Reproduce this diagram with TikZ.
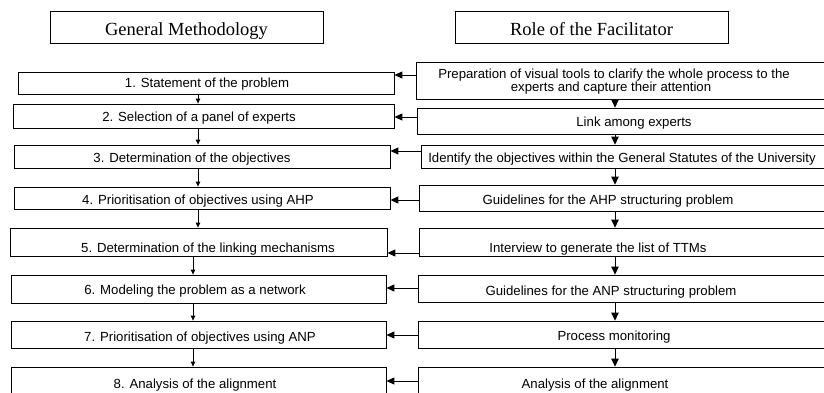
\documentclass[tikz,border=0pt]{standalone}
\usepackage{fontspec}
\setmainfont{Liberation Sans}
\newfontfamily\hdrfont{Liberation Serif}
\usetikzlibrary{arrows.meta,fit}
\tikzset{
  box/.style={draw, line width=0.8pt, inner sep=0pt, rectangle},
  txt/.style={font=\fontsize{13.2}{15}\selectfont, inner sep=0pt, anchor=base},
  hdr/.style={font=\hdrfont\fontsize{18.5}{20}\selectfont, inner sep=0pt, anchor=base},
  harrow/.style={-{Triangle[length=8pt,width=7pt]}, line width=1pt},
  varrow/.style={-{Triangle[length=5pt,width=4.5pt]}, line width=1pt},
  rarrow/.style={-{Triangle[length=8pt,width=7.5pt]}, line width=1pt}
}
\newcommand{\mkbox}[5]{\node[box, fit={(#2,#3) (#4,#5)}] (#1) {};}
\begin{document}
\begin{tikzpicture}[x=1pt,y=-1pt]
\useasboundingbox (0,0) rectangle (824,392);
\clip (0,0) rectangle (824,392);
% headers
\mkbox{HL}{50}{11}{323}{43}
\mkbox{HR}{455}{11}{728}{43}
\node[hdr] (tHL) at (186.5,35) {General Methodology};
\node[hdr] (tHR) at (591.5,35) {Role of the Facilitator};
% left column
\mkbox{L1}{18}{72}{394}{94}
\mkbox{L2}{13}{104}{394}{128}
\mkbox{L3}{14}{145}{390}{168}
\mkbox{L4}{14}{187}{390}{209}
\mkbox{L5}{10}{228}{387}{256}
\mkbox{L6}{11}{275}{386}{303}
\mkbox{L7}{11}{321}{386}{348}
\mkbox{L8}{11}{367}{386}{402}
\node[txt] (tL1) at (207,87) {1. Statement of the problem};
\node[txt] (tL2) at (199,121) {2. Selection of a panel of experts};
\node[txt] (tL3) at (192,162) {3. Determination of the objectives};
\node[txt] (tL4) at (198,204) {4. Prioritisation of objectives using AHP};
\node[txt] (tL5) at (208,252) {5. Determination of the linking mechanisms};
\node[txt] (tL6) at (195,294) {6. Modeling the problem as a network};
\node[txt] (tL7) at (200,341) {7. Prioritisation of objectives using ANP};
\node[txt] (tL8) at (195,388) {8. Analysis of the alignment};
% right column
\mkbox{R1}{416}{62}{840}{99}
\mkbox{R2}{417}{108}{840}{134}
\mkbox{R3}{421}{145}{840}{168}
\mkbox{R4}{419}{185}{840}{211}
\mkbox{R5}{419}{228}{840}{256}
\mkbox{R6}{418}{275}{840}{302}
\mkbox{R7}{418}{321}{840}{348}
\mkbox{R8}{418}{367}{840}{402}
\node[txt] (tR1a) at (614,78) {Preparation of visual tools to clarify the whole process to the};
\node[txt] (tR1b) at (611,91) {experts and capture their attention};
\node[txt] (tR2) at (634,126) {Link among experts};
\node[txt] (tR3) at (622,162) {Identify the objectives within the General Statutes of the University};
\node[txt] (tR4) at (608,204) {Guidelines for the AHP structuring problem};
\node[txt] (tR5) at (598,252) {Interview to generate the list of TTMs};
\node[txt] (tR6) at (611,295) {Guidelines for the ANP structuring problem};
\node[txt] (tR7) at (614,340) {Process monitoring};
\node[txt] (tR8) at (595,388) {Analysis of the alignment};
% reference coordinates
\coordinate (h1) at (0,75);
\coordinate (h2) at (0,117);
\coordinate (h3) at (0,151);
\coordinate (h4) at (0,200);
\coordinate (h5) at (0,253);
\coordinate (h6) at (0,288);
\coordinate (h7) at (0,335);
\coordinate (h8) at (0,381);
\coordinate (va) at (198,0);
\coordinate (vb) at (193,0);
\coordinate (vr) at (615,0);
% horizontal arrows
\foreach \i in {1,...,8}{
  \draw[harrow] (R\i.west |- h\i) -- (L\i.east |- h\i);
}
% left vertical arrows
\draw[varrow] (L1.south -| va) -- (L2.north -| va);
\draw[varrow] (L2.south -| va) -- (L3.north -| va);
\draw[varrow] (L3.south -| va) -- (L4.north -| va);
\draw[varrow] (L4.south -| va) -- (L5.north -| va);
\draw[varrow] (L5.south -| vb) -- (L6.north -| vb);
\draw[varrow] (L6.south -| vb) -- (L7.north -| vb);
\draw[varrow] (L7.south -| vb) -- (L8.north -| vb);
% right vertical arrows
\draw[rarrow] (R1.south -| vr) -- (R2.north -| vr);
\draw[rarrow] (R2.south -| vr) -- (R3.north -| vr);
\draw[rarrow] (R3.south -| vr) -- (R4.north -| vr);
\draw[rarrow] (R4.south -| vr) -- (R5.north -| vr);
\draw[rarrow] (R5.south -| vr) -- (R6.north -| vr);
\draw[rarrow] (R6.south -| vr) -- (R7.north -| vr);
\draw[rarrow] (R7.south -| vr) -- (R8.north -| vr);
\end{tikzpicture}
\end{document}
